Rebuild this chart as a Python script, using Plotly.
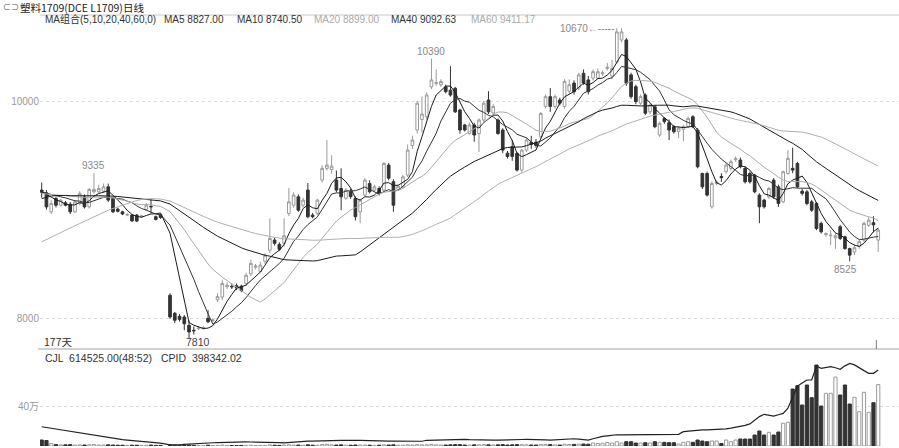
import plotly.graph_objects as go
import pandas as pd

W, H = 899, 448

# ---------------- data ----------------
# trading-day slots on the axis (slot 26 is empty in the chart)
day_slot = list(range(0, 26)) + list(range(27, 177))

open_ = [9180, 9155, 8980, 9103, 9041, 9063, 9050, 8980, 9057, 9118,
         9026, 9165, 9165, 9170, 9210, 9103, 9005, 8980, 8950, 8950,
         8950, 8935, 9002, 9030, 8935, 8950, 8212, 8046, 8018,
         8012, 7935, 7890, 7905, 7905, 8000, 7980, 8170, 8196, 8290,
         8295, 8300, 8295, 8320, 8410, 8470, 8430, 8525, 8627, 8720,
         8680, 8690, 8965, 9041, 9118, 9041, 9180, 8950, 8965, 9272,
         9380, 9370, 9272, 9195, 9105, 9165, 9103, 8980, 9134, 9240,
         9180, 9195, 9180, 9410, 9257, 9185, 9210, 9318, 9590, 9733,
         9830, 9855, 10130, 10160, 10150, 10130, 10100, 10117, 9917, 9779,
         9700, 9779, 9700, 9825, 10009, 9890, 9825, 9733, 9520, 9580,
         9517, 9364, 9548, 9620, 9620, 9670, 9950, 10040, 9950, 10009,
         9950, 10090, 10165, 10120, 10255, 10194, 10210, 10210, 10250, 10300,
         10230, 10360, 10562, 10562, 10240, 10132, 9980, 10055, 9900, 9947,
         9687, 9840, 9800, 9763, 9720, 9740, 9763, 9855, 9733, 9333,
         9333, 9026, 9240, 9305, 9350, 9380, 9460, 9456, 9380, 9333,
         9318, 9134, 9088, 9118, 9272, 9210, 9072, 9333, 9380, 9425,
         9170, 9164, 9072, 9057, 8873, 8770, 8760, 8740, 8842, 8750,
         8642, 8610, 8660, 8720, 8857, 8880, 8720]
high = [9250, 9180, 9090, 9120, 9100, 9080, 9070, 9090, 9170, 9140,
        9200, 9335, 9230, 9240, 9240, 9110, 9020, 8990, 8970, 8960,
        8960, 8950, 9060, 9094, 8945, 8960, 8230, 8058, 8040,
        8030, 7980, 7925, 7925, 7930, 8075, 8000, 8230, 8350, 8330,
        8320, 8320, 8310, 8420, 8540, 8500, 8520, 8600, 8920, 8740,
        8700, 8920, 9200, 9160, 9140, 9110, 9245, 8970, 9100, 9410,
        9640, 9500, 9360, 9380, 9200, 9190, 9120, 9100, 9290, 9270,
        9230, 9215, 9440, 9430, 9280, 9230, 9320, 9600, 9680, 10000,
        10040, 10080, 10390, 10290, 10200, 10150, 10320, 10130, 9930, 9790,
        9800, 9800, 9840, 10000, 10090, 9970, 9840, 9750, 9540, 9640,
        9530, 9560, 9660, 9680, 9650, 9900, 10060, 10120, 10060, 10030,
        10200, 10200, 10190, 10260, 10290, 10230, 10290, 10300, 10280, 10350,
        10380, 10670, 10670, 10580, 10260, 10150, 10060, 10070, 9980, 9960,
        9810, 9850, 9830, 9780, 9770, 9780, 9860, 9870, 9750, 9340,
        9350, 9260, 9270, 9335, 9430, 9460, 9490, 9480, 9400, 9350,
        9330, 9150, 9100, 9210, 9290, 9230, 9360, 9548, 9570, 9440,
        9190, 9180, 9090, 9070, 8890, 8790, 8810, 8780, 8860, 8760,
        8650, 8680, 8720, 8890, 8930, 8940, 8830]
low = [9110, 9000, 8960, 9020, 9030, 9030, 8960, 8970, 9040, 9010,
       9010, 9150, 9150, 9160, 9070, 8970, 8975, 8950, 8940, 8885,
       8885, 8925, 8990, 8965, 8900, 8915, 7995, 7955, 7970,
       7890, 7810, 7850, 7890, 7895, 7955, 7965, 8150, 8166, 8270,
       8270, 8260, 8240, 8300, 8390, 8450, 8420, 8500, 8600, 8670,
       8620, 8660, 8940, 9020, 8980, 9020, 8920, 8920, 8950, 9250,
       9360, 9330, 9160, 8995, 9090, 9100, 8900, 8875, 9120, 9150,
       9165, 9130, 9160, 9270, 8980, 9170, 9195, 9300, 9560, 9700,
       9710, 9830, 10110, 10140, 10130, 10070, 10040, 9890, 9700, 9720,
       9690, 9625, 9530, 9800, 9880, 9870, 9690, 9520, 9470, 9450,
       9350, 9340, 9530, 9560, 9570, 9650, 9930, 9900, 9930, 9960,
       9930, 10070, 10060, 10100, 10150, 10060, 10190, 10200, 10230, 10280,
       10200, 10340, 10540, 10140, 10020, 9970, 9960, 9870, 9880, 9750,
       9670, 9790, 9640, 9700, 9660, 9630, 9750, 9750, 9380, 9190,
       9120, 9010, 9225, 9255, 9330, 9360, 9440, 9380, 9240, 9240,
       9150, 8875, 9010, 9100, 9100, 9025, 9060, 9320, 9335, 9200,
       9130, 9040, 8980, 8811, 8780, 8750, 8673, 8640, 8720, 8630,
       8525, 8580, 8640, 8700, 8840, 8790, 8610]
close = [9160, 9026, 9057, 9041, 9088, 9041, 8980, 9072, 9150, 9026,
         9186, 9186, 9195, 9210, 9088, 8980, 8985, 8960, 8955, 8897,
         8895, 8942, 9041, 9026, 8910, 8928, 8012, 7982, 7990,
         7950, 7874, 7885, 7910, 7912, 7968, 7985, 8200, 8320, 8305,
         8290, 8280, 8255, 8396, 8505, 8480, 8490, 8580, 8735, 8690,
         8635, 8760, 9072, 9134, 8995, 9088, 8935, 8935, 9088, 9380,
         9410, 9400, 9180, 9118, 9180, 9120, 8935, 9088, 9272, 9165,
         9210, 9150, 9425, 9290, 9041, 9215, 9302, 9548, 9641, 9980,
         9880, 10055, 10194, 10170, 10180, 10086, 10055, 9900, 9733, 9733,
         9779, 9687, 9825, 9980, 9900, 9950, 9700, 9548, 9490, 9490,
         9364, 9548, 9641, 9600, 9590, 9885, 10040, 9950, 10040, 9980,
         10180, 10150, 10086, 10240, 10165, 10086, 10270, 10270, 10260, 10310,
         10300, 10636, 10636, 10163, 10040, 9994, 10040, 9887, 9963, 9763,
         9794, 9810, 9733, 9717, 9750, 9765, 9840, 9763, 9395, 9210,
         9134, 9241, 9255, 9295, 9410, 9441, 9470, 9395, 9256, 9256,
         9164, 9026, 9026, 9195, 9118, 9057, 9349, 9472, 9364, 9210,
         9150, 9057, 8995, 8827, 8796, 8780, 8765, 8760, 8735, 8642,
         8581, 8650, 8705, 8873, 8903, 8860, 8811]

# closes before the visible window (only used to seed the moving averages)
warmup_close = [7700, 7720, 7750, 7780, 7800, 7830, 7850, 7870, 7880, 7900,
                7920, 7940, 7960, 7980, 8000, 8020, 8040, 8060, 8080, 8100,
                8400, 8700, 8900, 9000, 9050, 9100, 9120, 9150, 9130, 9110,
                9140, 9160, 9180, 9150, 9120, 9100, 9130, 9160, 9150, 9140,
                9120, 9100, 9110, 9130, 9150, 9170, 9160, 9140, 9120, 9130,
                9150, 9170, 9180, 9160, 9140, 9150, 9170, 9180, 9170]

# volume (CJL) in thousands of lots
cjl_k = [60, 55, 25, 15, 12, 12, 14, 10, 12, 10,
         12, 15, 10, 10, 12, 10, 8, 8, 6, 8,
         8, 6, 8, 10, 6, 6, 12, 8, 6,
         8, 10, 6, 4, 4, 8, 5, 6, 10, 6,
         5, 5, 6, 6, 8, 5, 6, 6, 12, 8,
         6, 10, 12, 10, 10, 8, 12, 8, 8, 14,
         16, 12, 10, 12, 8, 8, 10, 10, 10, 8,
         6, 8, 12, 10, 12, 8, 8, 12, 10, 14,
         12, 12, 16, 12, 10, 10, 12, 14, 14, 10,
         10, 12, 12, 14, 12, 10, 12, 14, 10, 12,
         14, 14, 12, 10, 10, 14, 15, 14, 12, 10,
         18, 15, 16, 18, 20, 18, 30, 25, 28, 35,
         30, 43, 30, 43, 43, 30, 30, 33, 30, 43,
         37, 37, 33, 33, 20, 37, 43, 37, 60, 50,
         43, 50, 50, 25, 60, 43, 60, 70, 70, 70,
         110, 150, 110, 137, 110, 140, 227, 237, 570, 603,
         410, 610, 483, 810, 400, 527, 527, 690, 510, 610,
         420, 487, 343, 537, 337, 433, 614.525]

# open interest (CPID) in thousands of lots
cpid_k = [101, 97, 92, 88, 84, 79, 74, 70, 66, 63,
          59, 55, 51, 47, 42, 39, 36, 33, 31, 29,
          27, 25, 23, 20, 17, 15, 6, 5, 6,
          8, 10, 12, 14, 15, 16, 17, 18, 19, 20,
          20, 21, 21, 22, 21, 21, 21, 21, 21, 20,
          18, 16, 18, 21, 25, 25, 26, 26, 26, 26,
          26, 27, 28, 29, 30, 31, 30, 29, 28, 27,
          26, 26, 26, 26, 26, 26, 25, 24, 23, 23,
          25, 30, 31, 30, 30, 31, 32, 33, 35, 35,
          33, 32, 31, 31, 31, 31, 31, 31, 31, 32,
          33, 34, 35, 35, 34, 33, 32, 31, 32, 34,
          36, 38, 38, 36, 33, 31, 38, 45, 50, 53,
          56, 59, 58, 58, 59, 60, 60, 60, 61, 61,
          61, 61, 61, 61, 61, 75, 78, 80, 83, 84,
          85, 86, 87, 88, 90, 94, 98, 101, 108, 116,
          135, 154, 166, 160, 157, 164, 171, 198, 258, 314,
          330, 346, 346, 419, 407, 410, 416, 410, 402, 420,
          433, 425, 412, 395, 381, 381, 398.342]

ma_periods = [5, 10, 20, 40, 60]
ma_colors = ["#1a1a1a", "#333333", "#ababab", "#1a1a1a", "#b0b0b0"]
title_text = "塑料1709(DCE L1709)日线"
ma_header = ["MA组合(5,10,20,40,60,0)", "MA5 8827.00", "MA10 8740.50",
             "MA20 8899.00", "MA40 9092.63", "MA60 9411.17"]
vol_header = ["CJL  614525.00(48:52)", "CPID  398342.02"]
price_ticks = [8000, 10000]
vol_ticks = [400000]
vol_ticktext = ["40万"]
days_label = "177天"
# (slot on axis, price, label placement)
peak_labels = [(11, 9335, "above"), (82, 10390, "above"), (121, 10670, "left"),
               (170, 8525, "below"), (31, 7810, "lowlabel")]

# ---------------- derived ----------------
x = day_slot
n_slots = day_slot[-1] + 1
full = pd.Series(warmup_close + close, dtype=float)
nw = len(warmup_close)
mas = {p: full.rolling(p).mean().iloc[nw:].tolist() for p in ma_periods}
cjl = [v * 1000 for v in cjl_k]
cpid = [v * 1000 for v in cpid_k]

UP_LINE = "#9a9a9a"
DN = "#333333"
up = [c >= o for o, c in zip(open_, close)]
bar_fill = ["white" if u else DN for u in up]
bar_line = [UP_LINE if u else DN for u in up]

def px(v):
    return v / W

def py(v):
    return 1 - v / H

fig = go.Figure()
fig.add_trace(go.Candlestick(
    x=x, open=open_, high=high, low=low, close=close,
    increasing=dict(line=dict(color=UP_LINE, width=1), fillcolor="white"),
    decreasing=dict(line=dict(color=DN, width=1), fillcolor=DN),
    whiskerwidth=0, xaxis="x", yaxis="y", hoverinfo="skip"))

for p, col in zip(ma_periods, ma_colors):
    fig.add_trace(go.Scatter(x=x, y=mas[p], mode="lines",
                             line=dict(color=col, width=1),
                             xaxis="x", yaxis="y", hoverinfo="skip"))

fig.add_trace(go.Bar(x=x, y=cjl, width=0.68,
                     marker=dict(color=bar_fill, line=dict(color=bar_line, width=1)),
                     xaxis="x", yaxis="y2", hoverinfo="skip"))
fig.add_trace(go.Scatter(x=x, y=cpid, mode="lines",
                         line=dict(color="#222222", width=1.2),
                         xaxis="x", yaxis="y3", hoverinfo="skip"))

# axis geometry (pixel layout of the terminal chart)
x_left_px, price_top_px, price_bot_px, vol_base_px = 40, 15, 349, 446
dom_x = [px(x_left_px), 1]
dom_price = [py(price_bot_px), py(price_top_px)]
dom_vol = [py(vol_base_px), py(price_bot_px)]
spacing = 4.753
first_px = 41.7
xr = [(x_left_px - first_px) / spacing, (W - first_px) / spacing]
per_px = 2000 / (318.3 - 101)
price_range = [10000 - (price_bot_px - 101) * per_px, 10000 + (101 - price_top_px) * per_px]
vol_range = [0, (vol_base_px - price_bot_px) * 10000]
oi_range = [0, (vol_base_px - price_bot_px) * 5241]

tickfont = dict(family="Liberation Sans, Noto Sans CJK SC", size=10, color="#9a9a9a")
fig.update_layout(
    width=W, height=H, margin=dict(l=0, r=0, t=0, b=0),
    paper_bgcolor="white", plot_bgcolor="white", showlegend=False,
    boxgap=0.2, bargap=0.3, hovermode=False,
    font=dict(family="Liberation Sans, Noto Sans CJK SC", size=10, color="#333"),
    xaxis=dict(domain=dom_x, range=xr, showticklabels=False, showgrid=False,
               zeroline=False, showline=False, rangeslider=dict(visible=False),
               anchor="y2"),
    yaxis=dict(domain=dom_price, range=price_range, tickvals=price_ticks,
               ticktext=[str(t) for t in price_ticks], tickfont=tickfont,
               showgrid=True, gridcolor="#dcdcdc", griddash="dot", gridwidth=1,
               zeroline=False, showline=False, ticks="", anchor="x"),
    yaxis2=dict(domain=dom_vol, range=vol_range, tickvals=vol_ticks,
                ticktext=vol_ticktext, tickfont=tickfont,
                showgrid=True, gridcolor="#dcdcdc", griddash="dot", gridwidth=1,
                zeroline=False, showline=False, ticks="", anchor="x"),
    yaxis3=dict(domain=dom_vol, range=oi_range, overlaying="y2", visible=False,
                anchor="x"),
)

shapes = [
    dict(type="line", xref="paper", yref="paper", x0=px(40), x1=1,
         y0=py(15), y1=py(15), line=dict(color="#c8c8c8", width=1)),
    dict(type="line", xref="paper", yref="paper", x0=px(38), x1=1,
         y0=py(349), y1=py(349), line=dict(color="#c0c0c0", width=1.5)),
    dict(type="line", xref="x", yref="paper", x0=n_slots - 1.4, x1=n_slots - 1.4,
         y0=py(349), y1=py(340), line=dict(color="#777", width=1)),
]
fig.update_layout(shapes=shapes)

ann = []
ann.append(dict(text="⊂⊃", x=px(1), y=py(7), xref="paper", yref="paper",
                xanchor="left", yanchor="middle", showarrow=False,
                font=dict(size=8, color="#555")))
ann.append(dict(text=title_text, x=px(18), y=py(7), xref="paper", yref="paper",
                xanchor="left", yanchor="middle", showarrow=False,
                font=dict(family="Noto Sans CJK SC, Liberation Sans", size=10.5, color="#222")))
hdr_x = [43, 162, 235, 312, 389, 469]
hdr_col = ["#333", "#333", "#333", "#aaa", "#333", "#aaa"]
for t, hx, hc in zip(ma_header, hdr_x, hdr_col):
    ann.append(dict(text=t, x=px(hx), y=py(19.5), xref="paper", yref="paper",
                    xanchor="left", yanchor="middle", showarrow=False,
                    font=dict(size=10, color=hc)))
for t, hx in zip(vol_header, [43, 159]):
    ann.append(dict(text=t, x=px(hx), y=py(357.5), xref="paper", yref="paper",
                    xanchor="left", yanchor="middle", showarrow=False,
                    font=dict(size=10.5, color="#333")))
ann.append(dict(text=days_label, x=px(42), y=py(341), xref="paper", yref="paper",
                xanchor="left", yanchor="middle", showarrow=False,
                font=dict(family="Noto Sans CJK SC, Liberation Sans", size=10.5, color="#333")))
for xi, val, pos in peak_labels:
    d = dict(x=xi, y=val, xref="x", yref="y", showarrow=False,
             font=dict(size=10, color="#8a8a8a"))
    if pos == "above":
        d.update(text=str(val), xanchor="center", yanchor="bottom", yshift=0)
    elif pos == "below":
        d.update(text=str(val), xanchor="center", yanchor="top", yshift=-1, xshift=-4)
    elif pos == "left":
        d.update(text=f"{val}←-----", xanchor="right", yanchor="middle", xshift=-1)
    else:
        d.update(text=str(val), xanchor="left", yanchor="middle", xshift=-5, yshift=-3,
                 font=dict(size=10.5, color="#444"))
    ann.append(d)
fig.update_layout(annotations=ann)

fig.write_html("out.html", config={"displayModeBar": False},
               post_script="document.body.style.margin='0px';document.body.style.padding='0px';")
